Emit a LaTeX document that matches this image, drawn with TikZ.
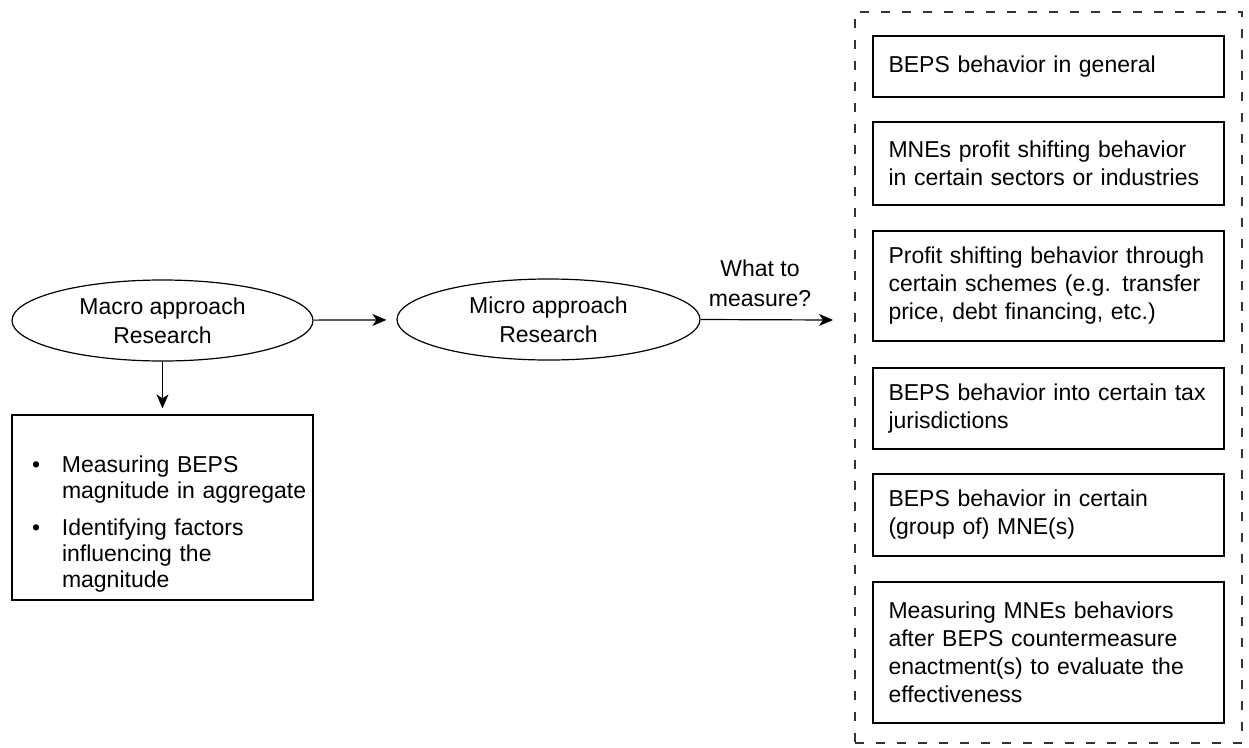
\documentclass[tikz,border=0pt]{standalone}
\usepackage{fontspec}
\setmainfont{Liberation Sans}
\usetikzlibrary{shapes.geometric,arrows.meta,calc}
\begin{document}
\begin{tikzpicture}[x=1pt,y=-1pt,line width=1.2pt,
  box/.style={draw, rectangle, inner xsep=15.5pt, inner ysep=0pt, text width=320pt,
    minimum width=351pt, align=left, font=\fontsize{23}{28}\selectfont},
  oval/.style={draw, ellipse, inner sep=0pt, minimum height=81pt, align=center,
    font=\fontsize{23}{29}\selectfont},
  grpbox/.style={draw=black!80, dash pattern=on 9pt off 12pt, rectangle, minimum width=387pt, minimum height=731pt},
  arr/.style={-{Stealth[length=14pt,width=12pt,inset=4pt]}},
  lbl/.style={align=center, font=\fontsize{23}{30}\selectfont}
]
\useasboundingbox (0,0) rectangle (1249,747);

\node[grpbox] (grp) at (1048.5,377.5) {};

\node[box, minimum height=61pt]  (b1) at (1048.5,66.5) {BEPS behavior in general};
\node[box, minimum height=83pt]  (b2) at (1048.5,163.5) {MNEs profit shifting behavior\\in certain sectors or industries};
\node[box, minimum height=110pt] (b3) at (1048.5,286) {Profit shifting behavior through\\certain schemes (e.g. transfer\\price, debt financing, etc.)};
\node[box, minimum height=81pt]  (b4) at (1048.5,408.5) {BEPS behavior into certain tax\\jurisdictions};
\node[box, minimum height=82pt]  (b5) at (1048.5,515) {BEPS behavior in certain\\(group of) MNE(s)};
\node[box, minimum height=141pt] (b6) at (1048.5,652.5) {Measuring MNEs behaviors\\after BEPS countermeasure\\enactment(s) to evaluate the\\effectiveness};

\node[oval, minimum width=301pt] (macro) at (162.5,320.5) {Macro approach\\Research};
\node[oval, minimum width=303pt] (micro) at (548.5,319.5) {Micro approach\\Research};

\node[draw, rectangle, minimum width=301pt, minimum height=185pt, inner xsep=20pt, inner ysep=0pt,
  text width=261pt, align=left, font=\fontsize{23}{26}\selectfont] (lb) at (162.5,507.5)
  {\begin{tabular}{@{}p{30pt}@{}l@{}}\rule{0pt}{52pt}\textbullet & Measuring BEPS\\ & magnitude in aggregate\\[11pt]\textbullet & Identifying factors\\ & influencing the\\ & magnitude\end{tabular}};

\coordinate (tip) at (833,320);
\node[lbl] (q) at (760,283) {What to\\measure?};

\draw[arr, shorten >=10pt] (macro) -- (micro);
\draw[arr, shorten >=6pt] (macro.south) -- (lb.north);
\draw[arr] (micro.east) -- (tip);
\end{tikzpicture}
\end{document}
